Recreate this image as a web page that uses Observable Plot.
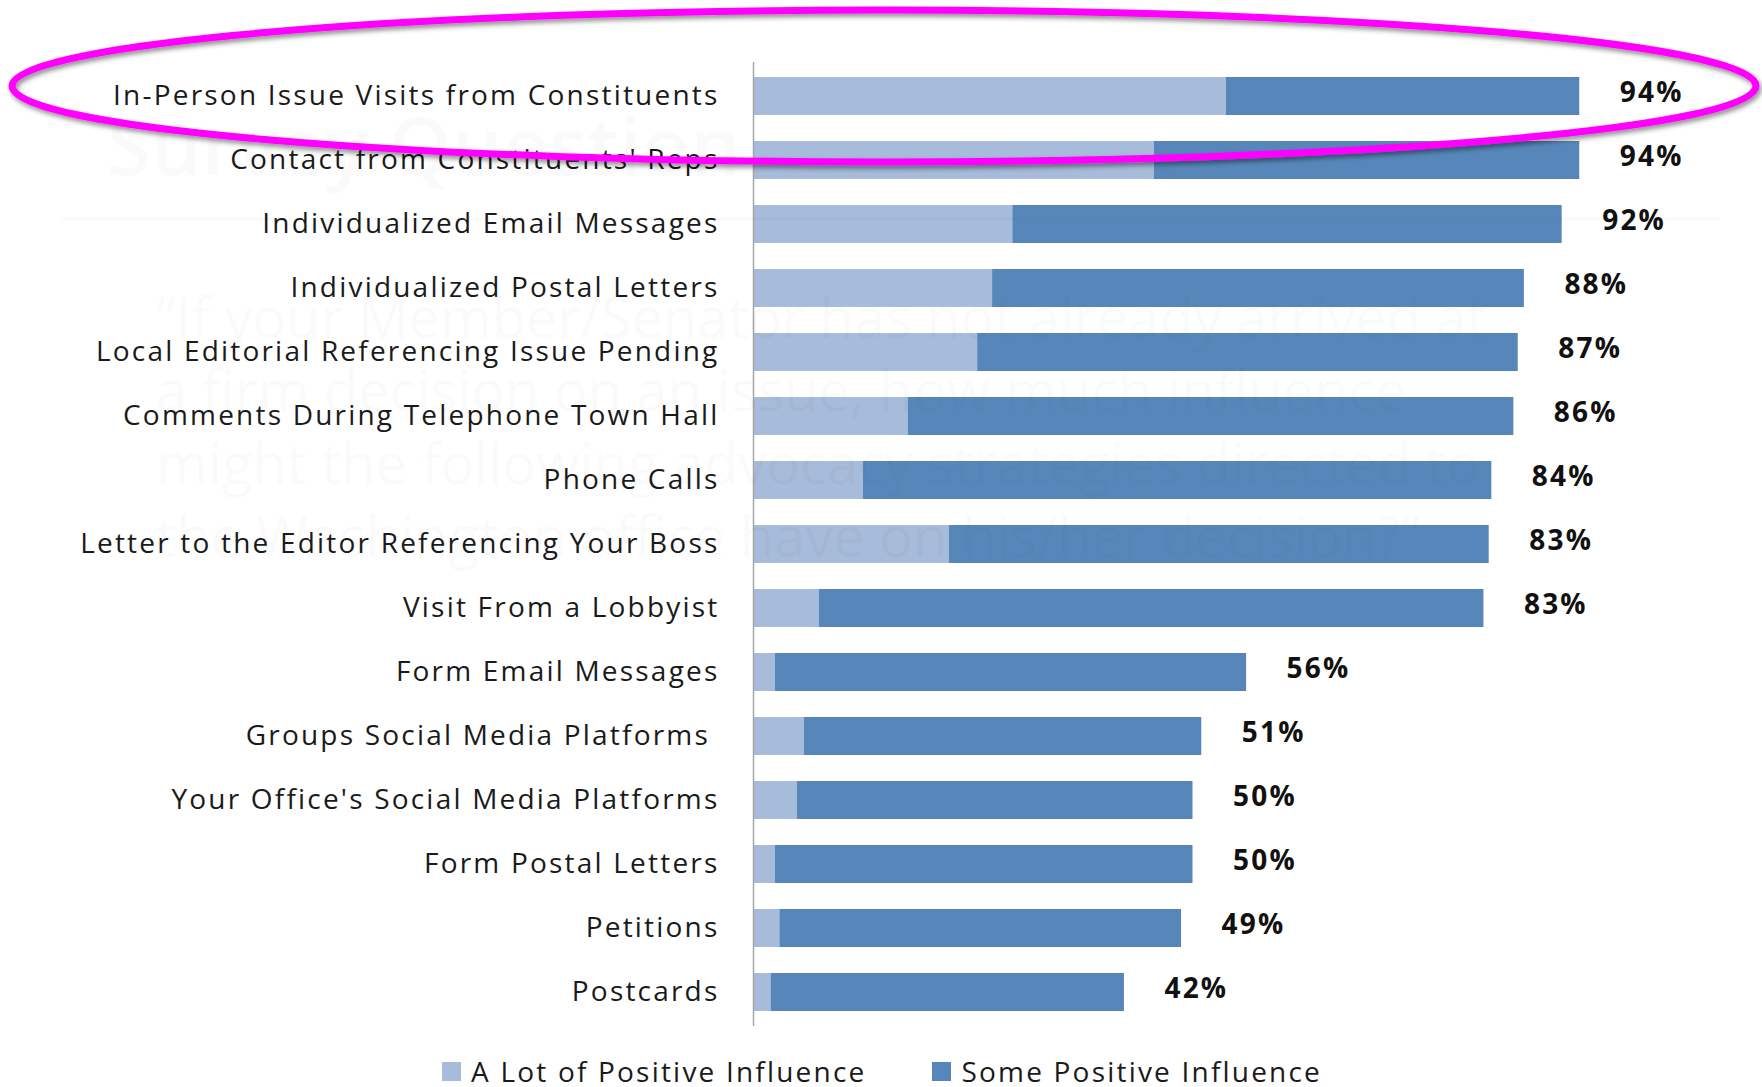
<!DOCTYPE html>
<html>
<head>
<meta charset="utf-8">
<script src="https://cdn.jsdelivr.net/npm/d3@7"></script>
<script src="https://cdn.jsdelivr.net/npm/@observablehq/plot@0.6"></script>
<style>
  html, body { margin: 0; padding: 0; background: #fff; }
  body { width: 1762px; height: 1087px; position: relative; overflow: hidden; font-family: 'Open Sans', sans-serif; }
  #chart { position: absolute; left: 0; top: 0; }
  #chart svg { font-family: 'Open Sans', sans-serif !important; background: #fff; }
  #chart svg text { letter-spacing: 2.2px; }
  #legend { position: absolute; left: 442px; top: 1056px; }
  #legend > div { font-family: 'Open Sans', sans-serif; font-size: 28px; letter-spacing: 2.2px; color: #1a1a1a; line-height: 30px; margin: 0; min-height: 0; }
  #legend span { margin-right: 66px; }
  #legend span > svg { margin-right: 10px; }
  .overlay { position: absolute; left: 0; top: 0; pointer-events: none; }
</style>
</head>
<body>
<div id="chart"></div>
<div id="legend"></div>
<svg class="overlay" id="ghost" width="1762" height="1087"></svg>
<svg class="overlay" id="annot" width="1762" height="1087"></svg>
<script>
// ---- data ----
const categories = [
  "In-Person Issue Visits from Constituents",
  "Contact from Constituents' Reps",
  "Individualized Email Messages",
  "Individualized Postal Letters",
  "Local Editorial Referencing Issue Pending",
  "Comments During Telephone Town Hall",
  "Phone Calls",
  "Letter to the Editor Referencing Your Boss",
  "Visit From a Lobbyist",
  "Form Email Messages",
  "Groups Social Media Platforms\u00a0",
  "Your Office's Social Media Platforms",
  "Form Postal Letters",
  "Petitions",
  "Postcards"
];
const aLot = [53.8, 45.6, 29.5, 27.2, 25.5, 17.6, 12.5, 22.3, 7.5, 2.5, 5.8, 5, 2.5, 3, 2];
const some = [40.2, 48.4, 62.5, 60.5, 61.5, 68.9, 71.5, 61.4, 75.6, 53.6, 45.2, 45, 47.5, 45.7, 40.2];
const totals = [94, 94, 92, 88, 87, 86, 84, 83, 83, 56, 51, 50, 50, 49, 42];
const seriesNames = ["A Lot of Positive Influence", "Some Positive Influence"];
const seriesColors = ["#a7bbda", "#5787ba"];

// faint background text showing through from the slide behind
const ghostTitle = "Survey Question";
const ghostLines = [
  "\u201cIf your Member/Senator has not already arrived at",
  "a firm decision on an issue, how much influence",
  "might the following advocacy strategies directed to",
  "the Washington office have on his/her decision?\u201d"
];

// ---- tables built from the arrays ----
const rows = [];
categories.forEach((c, i) => {
  rows.push({category: c, series: seriesNames[0], value: aLot[i]});
  rows.push({category: c, series: seriesNames[1], value: some[i]});
});
const totalRows = categories.map((c, i) => ({category: c, total: totals[i], end: aLot[i] + some[i]}));

const H = 1048;
const chart = Plot.plot({
  width: 1762,
  height: H,
  marginLeft: 753,
  marginRight: 130,
  marginTop: 62,
  marginBottom: H - 1026,
  x: {domain: [0, 100], axis: null},
  y: {domain: categories, paddingInner: 0.41, paddingOuter: 0.2, axis: null},
  color: {domain: seriesNames, range: seriesColors},
  marks: [
    Plot.barX(rows, Plot.stackX({x: "value", y: "category", fill: "series", order: null})),
    Plot.ruleX([0], {stroke: "#a6a6a6", strokeWidth: 1.5}),
    Plot.axisY({tickSize: 0, tickPadding: 34, fontSize: 28, color: "#1a1a1a", label: null}),
    Plot.text(totalRows, {
      x: "end", y: "category", text: d => d.total + "%",
      textAnchor: "start", dx: 40, dy: -3,
      fontSize: 28, fontWeight: "bold", fill: "#111"
    })
  ]
});
document.getElementById("chart").appendChild(chart);

const legend = Plot.legend({
  color: {type: "categorical", domain: seriesNames, range: seriesColors},
  swatchSize: 19
});
document.getElementById("legend").appendChild(legend);

// ---- ghost text overlay (very faint) ----
const ghost = d3.select("#ghost");
ghost.append("line")
  .attr("x1", 62).attr("x2", 1720).attr("y1", 219).attr("y2", 219)
  .attr("stroke", "#000").attr("stroke-opacity", 0.02).attr("stroke-width", 3);
ghost.append("text")
  .attr("x", 107).attr("y", 175)
  .attr("font-family", "'Open Sans', sans-serif").attr("font-size", 80).attr("font-weight", 600)
  .attr("fill", "#000").attr("fill-opacity", 0.02)
  .text(ghostTitle);
ghost.selectAll("text.q").data(ghostLines).join("text")
  .attr("class", "q")
  .attr("x", 156).attr("y", (d, i) => 338 + i * 73)
  .attr("font-family", "'Open Sans', sans-serif").attr("font-size", 56)
  .attr("fill", "#000").attr("fill-opacity", 0.02)
  .text(d => d);

// ---- magenta highlight ellipse ----
const annot = d3.select("#annot");
const defs = annot.append("defs");
const f = defs.append("filter").attr("id", "shadow").attr("x", "-5%").attr("y", "-30%").attr("width", "110%").attr("height", "160%");
f.append("feDropShadow").attr("dx", 2).attr("dy", 3).attr("stdDeviation", 2.5).attr("flood-color", "#000").attr("flood-opacity", 0.45);
annot.append("ellipse")
  .attr("cx", 884).attr("cy", 86).attr("rx", 872).attr("ry", 76)
  .attr("fill", "none").attr("stroke", "#ff00ff").attr("stroke-width", 7)
  .attr("filter", "url(#shadow)");
</script>
</body>
</html>
